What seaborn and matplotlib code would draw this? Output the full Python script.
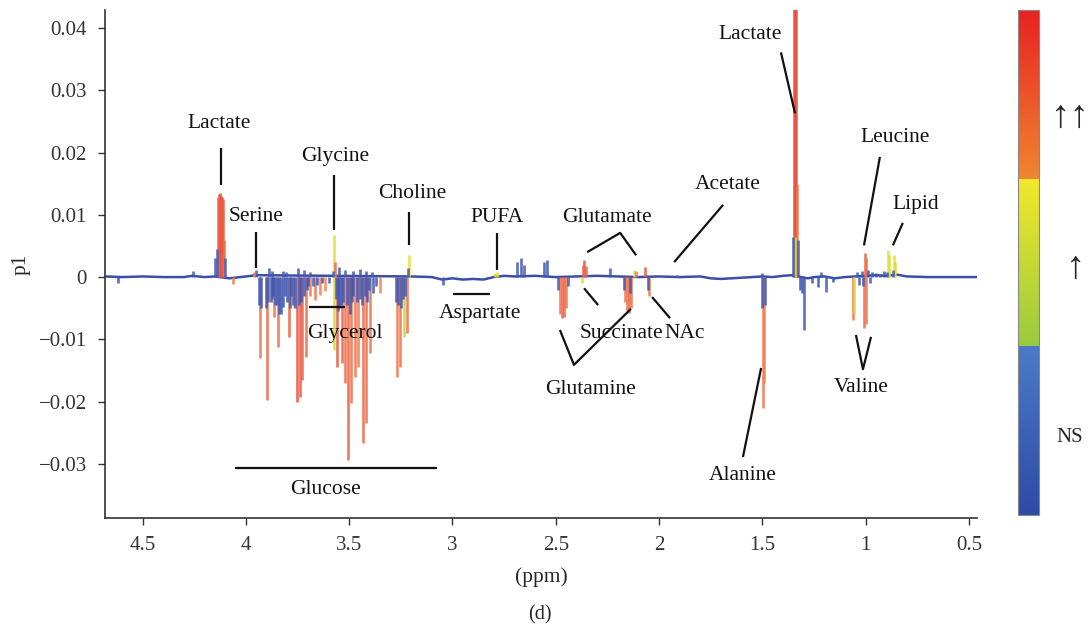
import numpy as np
import pandas as pd
import matplotlib
matplotlib.use("Agg")
import matplotlib.pyplot as plt
import seaborn as sns
from matplotlib.colors import LinearSegmentedColormap, Normalize
from matplotlib.cm import ScalarMappable

# ---------------- data ----------------
# baseline of the loading line (ppm, p1)
baseline_ppm = [4.68, 4.60, 4.50, 4.40, 4.30, 4.26, 4.20, 4.15, 4.08, 4.00, 3.95, 3.20,
                3.10, 3.05, 3.00, 2.95, 2.90, 2.85, 2.80, 2.75, 2.70, 2.60, 2.50,
                2.40, 2.30, 2.20, 2.10, 2.00, 1.90, 1.80, 1.75, 1.70, 1.65, 1.60,
                1.55, 1.50, 1.45, 1.40, 1.36, 1.28, 1.25, 1.20, 1.15, 1.10, 1.05,
                0.95, 0.90, 0.85, 0.80, 0.70, 0.60, 0.46]
baseline_p1 = [0.0001, 0.0000, 0.0001, 0.0000, 0.0000, 0.0002, 0.0000, 0.0001, -0.0002, 0.0001, 0.0003, 0.0001,
               0.0000, -0.0004, -0.0002, -0.0004, -0.0003, -0.0004, 0.0000, 0.0002, 0.0001, 0.0002, 0.0000,
               0.0001, 0.0002, 0.0001, 0.0000, 0.0001, 0.0000, 0.0001, -0.0002, -0.0003, -0.0002, -0.0001,
               0.0000, 0.0001, 0.0000, 0.0002, 0.0003, -0.0002, 0.0000, 0.0001, -0.0002, 0.0000, 0.0001,
               0.0003, 0.0002, 0.0004, 0.0001, 0.0000, 0.0000, 0.0000]

# individual peaks: position (ppm), loading (p1), correlation level (0 = NS ... 1 = strong)
peak_ppm = [
    4.620, 4.256, 4.148, 4.140, 4.135, 4.130, 4.125, 4.120, 4.115, 4.110, 4.105, 4.100, 4.060,
    3.960, 3.930, 3.897, 3.880, 3.863, 3.843, 3.820, 3.790, 3.765, 3.752, 3.740, 3.728, 3.710,
    3.690, 3.665, 3.640, 3.615, 3.573, 3.560, 3.535, 3.520, 3.506, 3.490, 3.470, 3.457, 3.433,
    3.420, 3.398, 3.350, 3.268, 3.254, 3.235, 3.222,
    3.935, 3.925, 3.905, 3.892, 3.875, 3.870, 3.858, 3.850, 3.838, 3.830, 3.812, 3.800, 3.785,
    3.780, 3.770, 3.760, 3.745, 3.735, 3.720, 3.705, 3.700, 3.675, 3.655, 3.630, 3.600, 3.565,
    3.555, 3.550, 3.540, 3.530, 3.512, 3.498, 3.485, 3.480, 3.462, 3.450, 3.440, 3.425, 3.412,
    3.405, 3.385, 3.370, 3.275, 3.262, 3.250, 3.230, 3.240,
    3.950, 3.890, 3.875, 3.820, 3.805, 3.750, 3.720, 3.690, 3.580, 3.550, 3.520, 3.480, 3.450,
    3.420, 3.390,
    3.573, 3.568, 3.212, 3.216,
    3.046, 2.795, 2.785, 2.688, 2.668, 2.652, 2.557, 2.543,
    2.490, 2.480, 2.470, 2.460, 2.450, 2.440,
    2.372, 2.368, 2.362, 2.356, 2.237,
    2.172, 2.165, 2.155, 2.145, 2.135, 2.140, 2.120, 2.110, 2.068, 2.055, 2.050, 1.915,
    1.500, 1.497, 1.490, 1.485, 1.502,
    1.345, 1.340, 1.335, 1.330, 1.342, 1.350, 1.328,
    1.318, 1.310, 1.300, 1.262, 1.230, 1.215, 1.190, 1.160,
    1.062, 1.055, 1.008, 1.000, 1.005, 0.998,
    1.040, 1.030, 1.020, 1.012, 0.990, 0.980, 0.970, 0.950, 0.930, 0.910,
    0.890, 0.885, 0.862, 0.857, 0.895, 0.870,
]
peak_p1 = [
    -0.0010, 0.0010, 0.0030, 0.0045, 0.0128, 0.0134, 0.0135, 0.0131, 0.0128, 0.0125, 0.0060, 0.0030, -0.0011,
    0.0008, -0.0130, -0.0197, -0.0040, -0.0064, -0.0112, -0.0048, -0.0096, -0.0050, -0.0200, -0.0193, -0.0165, -0.0128,
    -0.0030, -0.0037, -0.0028, -0.0022, -0.0117, -0.0144, -0.0138, -0.0170, -0.0294, -0.0202, -0.0160, -0.0144, -0.0266,
    -0.0234, -0.0122, -0.0026, -0.0160, -0.0144, -0.0096, -0.0090,
    -0.0045, -0.0050, -0.0050, -0.0040, -0.0035, -0.0030, -0.0045, -0.0045, -0.0060, -0.0060, -0.0030, -0.0040, -0.0050,
    -0.0030, -0.0045, -0.0050, -0.0045, -0.0040, -0.0030, -0.0020, -0.0015, -0.0015, -0.0012, -0.0010, -0.0010, -0.0035,
    -0.0055, -0.0050, -0.0045, -0.0040, -0.0045, -0.0060, -0.0040, -0.0030, -0.0040, -0.0035, -0.0045, -0.0030, -0.0040,
    -0.0020, -0.0025, -0.0015, -0.0040, -0.0045, -0.0050, -0.0030, -0.0035,
    0.0012, 0.0015, 0.0010, 0.0010, 0.0008, 0.0014, 0.0012, 0.0008, 0.0010, 0.0016, 0.0012, 0.0010, 0.0013,
    0.0010, 0.0008,
    0.0067, 0.0024, 0.0035, 0.0015,
    -0.0013, 0.0006, 0.0008, 0.0024, 0.0030, 0.0019, 0.0024, 0.0027,
    -0.0020, -0.0060, -0.0065, -0.0064, -0.0050, -0.0015,
    -0.0010, 0.0020, 0.0027, 0.0018, 0.0014,
    -0.0020, -0.0040, -0.0055, -0.0058, -0.0050, -0.0025, 0.0012, 0.0010, 0.0016, -0.0020, -0.0030, 0.0004,
    -0.0050, -0.0210, -0.0170, -0.0045, 0.0006,
    0.0460, 0.0460, 0.0460, 0.0150, 0.0065, 0.0065, 0.0060,
    -0.0020, -0.0025, -0.0085, -0.0010, -0.0016, 0.0008, -0.0024, -0.0008,
    -0.0069, -0.0060, -0.0082, -0.0075, 0.0038, 0.0030,
    0.0008, -0.0012, 0.0010, -0.0015, 0.0012, -0.0010, 0.0008, 0.0006, 0.0004, 0.0010,
    0.0043, 0.0036, 0.0035, 0.0025, 0.0008, 0.0012,
]
peak_corr = [
    0.10, 0.10, 0.15, 0.20, 0.85, 0.90, 0.92, 0.92, 0.88, 0.88, 0.80, 0.20, 0.75,
    0.75, 0.78, 0.82, 0.10, 0.78, 0.80, 0.15, 0.85, 0.60, 0.92, 0.90, 0.85, 0.80,
    0.75, 0.78, 0.72, 0.70, 0.55, 0.90, 0.85, 0.80, 0.85, 0.80, 0.78, 0.75, 0.82,
    0.80, 0.77, 0.70, 0.75, 0.78, 0.50, 0.80,
    0.12, 0.15, 0.10, 0.12, 0.18, 0.10, 0.12, 0.15, 0.10, 0.12, 0.10, 0.10, 0.15,
    0.12, 0.10, 0.15, 0.12, 0.10, 0.12, 0.15, 0.10, 0.12, 0.10, 0.12, 0.10, 0.15,
    0.12, 0.10, 0.15, 0.12, 0.10, 0.12, 0.15, 0.10, 0.12, 0.10, 0.15, 0.10, 0.12,
    0.12, 0.15, 0.10, 0.12, 0.15, 0.10, 0.12, 0.15,
    0.10, 0.12, 0.10, 0.10, 0.12, 0.10, 0.12, 0.10, 0.12, 0.10, 0.12, 0.10, 0.12,
    0.10, 0.12,
    0.58, 0.80, 0.60, 0.15,
    0.12, 0.58, 0.60, 0.10, 0.10, 0.10, 0.10, 0.10,
    0.12, 0.78, 0.82, 0.85, 0.78, 0.15,
    0.55, 0.85, 0.90, 0.85, 0.10,
    0.12, 0.75, 0.80, 0.82, 0.78, 0.15, 0.60, 0.78, 0.90, 0.12, 0.75, 0.30,
    0.15, 0.75, 0.72, 0.15, 0.10,
    0.95, 0.95, 0.92, 0.75, 0.55, 0.15, 0.15,
    0.10, 0.12, 0.12, 0.10, 0.12, 0.10, 0.12, 0.10,
    0.78, 0.55, 0.80, 0.78, 0.85, 0.80,
    0.10, 0.12, 0.10, 0.12, 0.10, 0.12, 0.10, 0.10, 0.10, 0.10,
    0.60, 0.58, 0.60, 0.55, 0.12, 0.15,
]

xticks = [4.5, 4.0, 3.5, 3.0, 2.5, 2.0, 1.5, 1.0, 0.5]
xticklabels = ["4.5", "4", "3.5", "3", "2.5", "2", "1.5", "1", "0.5"]
yticks = [-0.03, -0.02, -0.01, 0.0, 0.01, 0.02, 0.03, 0.04]
yticklabels = ["\u22120.03", "\u22120.02", "\u22120.01", "0", "0.01", "0.02", "0.03", "0.04"]

# metabolite labels (text, ppm, p1)
label_text = ["Lactate", "Serine", "Glycine", "Choline", "PUFA", "Glutamate", "Acetate",
              "Lactate", "Leucine", "Lipid", "Glycerol", "Aspartate", "Succinate", "NAc",
              "Glutamine", "Glucose", "Alanine", "Valine"]
label_ppm = [4.128, 3.951, 3.569, 3.196, 2.785, 2.252, 1.666, 1.559, 0.859, 0.757,
             3.521, 2.867, 2.184, 1.874, 2.330, 3.613, 1.594, 1.023]
label_p1 = [0.0246, 0.0098, 0.0193, 0.0135, 0.0096, 0.0096, 0.0148, 0.0390, 0.0225, 0.0116,
            -0.0090, -0.0058, -0.0090, -0.0090, -0.0180, -0.0342, -0.0319, -0.0177]

# pointer lines (lists of (ppm, p1) vertices)
pointer_lines = [
    [(4.121, 0.0207), (4.121, 0.0148)],
    [(3.951, 0.0072), (3.951, 0.0014)],
    [(3.574, 0.0164), (3.574, 0.0075)],
    [(3.211, 0.0104), (3.211, 0.0051)],
    [(2.785, 0.0071), (2.785, 0.0011)],
    [(2.348, 0.0040), (2.188, 0.0071), (2.111, 0.0035)],
    [(1.927, 0.0024), (1.690, 0.0116)],
    [(1.410, 0.0361), (1.342, 0.0263)],
    [(0.931, 0.0193), (1.008, 0.0051)],
    [(0.820, 0.0087), (0.868, 0.0051)],
    [(3.694, -0.0048), (3.520, -0.0048)],
    [(2.998, -0.0027), (2.818, -0.0027)],
    [(2.363, -0.0018), (2.295, -0.0045)],
    [(2.034, -0.0032), (1.947, -0.0066)],
    [(2.480, -0.0085), (2.412, -0.0141), (2.136, -0.0051)],
    [(4.053, -0.0307), (3.075, -0.0307)],
    [(1.506, -0.0146), (1.594, -0.0289)],
    [(1.047, -0.0093), (1.013, -0.0148), (0.974, -0.0096)],
]

# ---------------- style ----------------
sns.set_theme(style="ticks")
plt.rcParams["font.family"] = ["Liberation Serif", "DejaVu Serif"]
plt.rcParams["axes.edgecolor"] = "#333333"
plt.rcParams["xtick.color"] = "#333333"
plt.rcParams["ytick.color"] = "#333333"
plt.rcParams["axes.linewidth"] = 1.2

cmap = LinearSegmentedColormap("corr", {
    "red":   [(0.0, 0.18, 0.18), (0.333, 0.29, 0.60), (0.667, 0.95, 0.94), (1.0, 0.91, 0.91)],
    "green": [(0.0, 0.29, 0.29), (0.333, 0.48, 0.79), (0.667, 0.91, 0.52), (1.0, 0.13, 0.13)],
    "blue":  [(0.0, 0.65, 0.65), (0.333, 0.78, 0.25), (0.667, 0.16, 0.19), (1.0, 0.13, 0.13)],
}, N=512)
line_cmap = LinearSegmentedColormap("line", {
    "red":   [(0.0, 0.23, 0.23), (0.333, 0.30, 0.62), (0.667, 0.95, 0.95), (1.0, 0.90, 0.90)],
    "green": [(0.0, 0.31, 0.31), (0.333, 0.40, 0.80), (0.667, 0.90, 0.55), (1.0, 0.25, 0.25)],
    "blue":  [(0.0, 0.66, 0.66), (0.333, 0.75, 0.25), (0.667, 0.18, 0.33), (1.0, 0.22, 0.22)],
}, N=512)
norm = Normalize(0, 1)

fig = plt.figure(figsize=(10.89, 6.29), dpi=100)
ax = fig.add_axes([105 / 1089, 1 - 518 / 629, (977 - 105) / 1089, (518 - 10) / 629])

base_df = pd.DataFrame({"ppm": baseline_ppm, "p1": baseline_p1})
sns.lineplot(data=base_df, x="ppm", y="p1", ax=ax, color="#3b4ea8", lw=1.8,
             sort=False, zorder=2, legend=False)

peaks = pd.DataFrame({"ppm": peak_ppm, "p1": peak_p1, "corr": peak_corr})
peaks = peaks.reindex(peaks["p1"].abs().sort_values(ascending=False).index)
ax.vlines(peaks["ppm"], 0, peaks["p1"], colors=line_cmap(norm(peaks["corr"].values)),
          lw=1.9, alpha=0.85, zorder=3)

for (t, xp, yp) in zip(label_text, label_ppm, label_p1):
    ax.text(xp, yp, t, ha="center", va="center", fontsize=15.5, color="#111111", zorder=5)
for pl in pointer_lines:
    xs, ys = zip(*pl)
    ax.plot(xs, ys, color="#111111", lw=1.6, zorder=5, solid_capstyle="butt")

ax.set_xlim(4.682, 0.461)
ax.set_ylim(-0.0387, 0.0429)
ax.set_xticks(xticks)
ax.set_xticklabels(xticklabels)
ax.set_yticks(yticks)
ax.set_yticklabels(yticklabels)
ax.tick_params(axis="both", labelsize=15, length=5, width=1.0, direction="out")
ax.tick_params(axis="y", pad=8)
ax.tick_params(axis="x", pad=8)
ax.set_xlabel("(ppm)", fontsize=15.5, labelpad=9)
ax.set_ylabel("p1", fontsize=15.5, labelpad=6)
sns.despine(ax=ax)

fig.text(540 / 1089, 1 - 615 / 629, "(d)", ha="center", va="center", fontsize=14.5)

# colorbar
cax = fig.add_axes([1018 / 1089, 1 - 515 / 629, 21 / 1089, 505 / 629])
cb = fig.colorbar(ScalarMappable(norm=norm, cmap=cmap), cax=cax)
cb.outline.set_edgecolor("#888888")
cb.outline.set_linewidth(0.8)
cb.set_ticks([0.2, 0.4, 0.6, 0.8])
cb.set_ticklabels([])
cax.tick_params(length=2, width=0.8, direction="in", color="#333333")
fig.text(1070 / 1089, 1 - 117 / 629, "\u2191\u2191", ha="center", va="center", fontsize=28)
fig.text(1076 / 1089, 1 - 268 / 629, "\u2191", ha="center", va="center", fontsize=28)
fig.text(1070 / 1089, 1 - 437 / 629, "NS", ha="center", va="center", fontsize=15)

fig.savefig("out.png", dpi=100)
